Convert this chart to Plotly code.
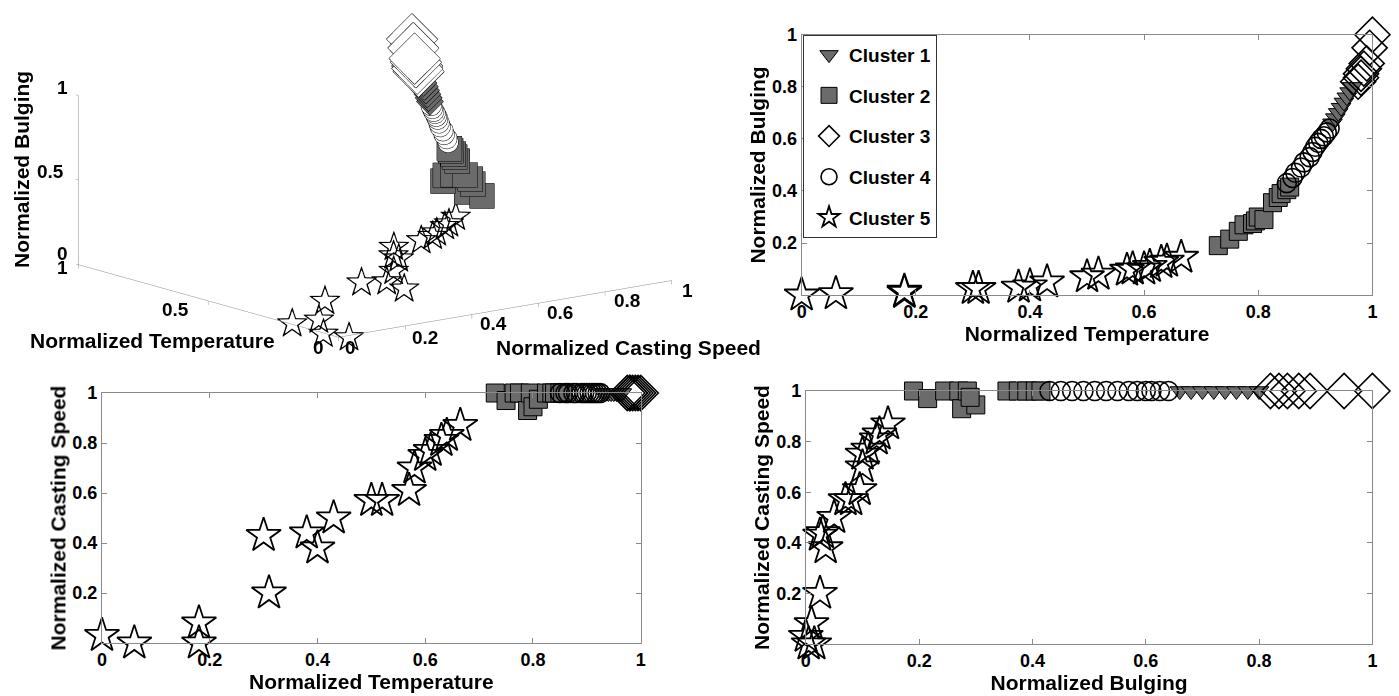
import plotly.graph_objects as go

# ---------------- data (normalized temperature T, casting speed S, bulging B) -------------
c1_T = [0.930, 0.935, 0.940, 0.945, 0.950, 0.955, 0.960, 0.965]
c1_S = [1.00, 1.00, 1.00, 1.00, 1.00, 1.00, 1.00, 1.00]
c1_B = [0.66, 0.68, 0.70, 0.72, 0.74, 0.76, 0.78, 0.80]

c2_T = [0.730, 0.750, 0.765, 0.775, 0.790, 0.795, 0.800, 0.810, 0.825, 0.835, 0.840, 0.850, 0.855]
c2_S = [1.00, 0.97, 1.00, 1.00, 0.93, 1.00, 0.945, 0.975, 1.00, 1.00, 1.00, 1.00, 1.00]
c2_B = [0.19, 0.215, 0.245, 0.27, 0.275, 0.285, 0.30, 0.29, 0.355, 0.375, 0.39, 0.405, 0.415]

c3_T = [0.975, 0.980, 0.980, 0.985, 0.990, 0.995, 1.000]
c3_S = [1.00, 1.00, 1.00, 1.00, 1.00, 1.00, 1.00]
c3_B = [0.82, 0.835, 0.85, 0.87, 0.89, 0.95, 1.00]

c4_T = [0.850, 0.860, 0.865, 0.875, 0.880, 0.890, 0.895, 0.900, 0.905, 0.910, 0.915, 0.920, 0.925]
c4_S = [1.00, 1.00, 1.00, 1.00, 1.00, 1.00, 1.00, 1.00, 1.00, 1.00, 1.00, 1.00, 1.00]
c4_B = [0.43, 0.45, 0.47, 0.49, 0.51, 0.53, 0.55, 0.57, 0.585, 0.60, 0.61, 0.625, 0.64]

c5_T = [0.00, 0.06, 0.18, 0.18, 0.30, 0.31, 0.38, 0.40, 0.43, 0.50, 0.52, 0.57, 0.58, 0.60, 0.61, 0.63, 0.64, 0.665]
c5_S = [0.03, 0.00, 0.08, 0.00, 0.43, 0.20, 0.44, 0.38, 0.50, 0.57, 0.57, 0.61, 0.70, 0.75, 0.77, 0.81, 0.83, 0.87]
c5_B = [0.00, 0.005, 0.01, 0.015, 0.025, 0.025, 0.03, 0.035, 0.05, 0.07, 0.08, 0.095, 0.10, 0.10, 0.11, 0.125, 0.13, 0.145]

cluster_names = ["Cluster 1", "Cluster 2", "Cluster 3", "Cluster 4", "Cluster 5"]
x_ticks = [0, 0.2, 0.4, 0.6, 0.8, 1]
x_ticktext = ["0", "0.2", "0.4", "0.6", "0.8", "1"]
y_ticks = [0.2, 0.4, 0.6, 0.8, 1]
y_ticktext = ["0.2", "0.4", "0.6", "0.8", "1"]

# 3D panel tick labels (text, x px, y px)
ticks3d_B = [("1", 62, 87), ("0.5", 50, 171), ("0", 62, 253)]
ticks3d_T = [("1", 62, 268), ("0.5", 175, 309), ("0", 318, 347)]
ticks3d_S = [("0", 350, 347), ("0.2", 425, 337), ("0.4", 493, 323), ("0.6", 560, 312),
             ("0.8", 627, 300), ("1", 687, 290)]

# ---------------- styles ----------------
GRAY = "#6b6b6b"
FONT = "Liberation Sans, Arial, sans-serif"
W, H = 1399, 696
styles = [
    dict(symbol="triangle-down", size=17, color=GRAY, line=dict(color="black", width=1)),
    dict(symbol="square", size=18, color=GRAY, line=dict(color="black", width=1)),
    dict(symbol="diamond-open", size=27, color="black", line=dict(color="black", width=1.6)),
    dict(symbol="circle-open", size=19, color="black", line=dict(color="black", width=1.6)),
    dict(symbol="star-open", size=26, color="black", line=dict(color="black", width=1.8)),
]
clusters = [(c1_T, c1_S, c1_B), (c2_T, c2_S, c2_B), (c3_T, c3_S, c3_B),
            (c4_T, c4_S, c4_B), (c5_T, c5_S, c5_B)]

fig = go.Figure()

# 2D panels: (x-variable index, y-variable index, axes suffix, show legend)
panels = [(0, 2, "2", True),   # top-right: T vs B
          (0, 1, "", False),   # bottom-left: T vs S
          (2, 1, "3", False)]  # bottom-right: B vs S
for xi, yi, suf, leg in panels:
    for k, (name, data, st) in enumerate(zip(cluster_names, clusters, styles)):
        fig.add_trace(go.Scatter(
            x=data[xi], y=data[yi], mode="markers", name=name,
            marker=st, cliponaxis=False, showlegend=leg, legendgroup=name,
            xaxis="x" + suf, yaxis="y" + suf))

# 3D panel
sym3d = ["diamond", "square", "diamond", "circle", None]
size3d = [9, 13, 17, 12, 0]
col3d = [GRAY, GRAY, "white", "white", None]
for k, (name, data) in enumerate(zip(cluster_names, clusters)):
    if k == 4:
        fig.add_trace(go.Scatter3d(
            x=data[0], y=data[1], z=data[2], mode="text", text=["☆"] * len(data[0]),
            textposition="middle center",
            textfont=dict(size=42, color="black", family="DejaVu Sans"),
            showlegend=False, scene="scene"))
    else:
        fig.add_trace(go.Scatter3d(
            x=data[0], y=data[1], z=data[2], mode="markers",
            marker=dict(symbol=sym3d[k], size=size3d[k], color=col3d[k],
                        line=dict(color="black", width=1.5)),
            showlegend=False, scene="scene"))

tickfont = dict(family=FONT, size=18, color="black", weight="bold")
titlefont = dict(family=FONT, size=21, color="black", weight="bold")
tick3font = dict(family=FONT, size=19, color="black", weight="bold")

def xax(domain, anchor, title):
    return dict(domain=domain, anchor=anchor, range=[0, 1], showline=True, linecolor="#8a8a8a",
                linewidth=1, mirror="allticks", ticks="inside", ticklen=5, tickcolor="#8a8a8a",
                showgrid=False, zeroline=False, tickvals=x_ticks, ticktext=x_ticktext,
                tickfont=tickfont, title=dict(text=title, font=titlefont, standoff=2),
                automargin=False)

def yax(domain, anchor, title):
    return dict(domain=domain, anchor=anchor, range=[0, 1], showline=True, linecolor="#8a8a8a",
                linewidth=1, mirror="allticks", ticks="inside", ticklen=5, tickcolor="#8a8a8a",
                showgrid=False, zeroline=False, tickvals=y_ticks, ticktext=y_ticktext,
                tickfont=tickfont, title=dict(text=title, font=titlefont, standoff=0),
                automargin=False)

ax3 = dict(showbackground=False, showgrid=False, zeroline=False, showline=True,
           linecolor="#8a8a8a", linewidth=1, ticks="outside", tickcolor="#8a8a8a",
           ticklen=4, showticklabels=False,
           title=dict(text=""), showspikes=False, range=[0, 1])

eye_dir = (0.769, 0.601, -0.218)
dist = 4.0
zoom3d = 2.31

annotations = [
    dict(text="Normalized Bulging", x=22 / W, y=1 - 170 / H, textangle=-90, font=titlefont),
    dict(text="Normalized Temperature", x=152 / W, y=1 - 340 / H, font=titlefont),
    dict(text="Normalized Casting Speed", x=628 / W, y=1 - 347 / H, font=titlefont),
]
for txt, px, py in ticks3d_B + ticks3d_T + ticks3d_S:
    annotations.append(dict(text="<b>" + txt + "</b>", x=px / W, y=1 - py / H, font=tick3font))
for a in annotations:
    a.update(xref="paper", yref="paper", showarrow=False, xanchor="center", yanchor="middle")

fig.update_layout(
    width=W, height=H, margin=dict(l=0, r=0, t=0, b=0),
    paper_bgcolor="white", plot_bgcolor="white",
    font=dict(family=FONT, color="black"),
    xaxis=xax([0.0729, 0.458], "y", "Normalized Temperature"),
    yaxis=yax([0.0761, 0.4353], "x", "Normalized Casting Speed"),
    xaxis2=xax([0.573, 0.981], "y2", "Normalized Temperature"),
    yaxis2=yax([0.576, 0.950], "x2", "Normalized Bulging"),
    xaxis3=xax([0.576, 0.981], "y3", "Normalized Bulging"),
    yaxis3=yax([0.0747, 0.4382], "x3", "Normalized Casting Speed"),
    scene=dict(
        domain=dict(x=[0.0, 0.536], y=[0.4668, 0.9928]),
        xaxis=dict(ax3, tickvals=[0, 0.5, 1]),
        yaxis=dict(ax3, tickvals=[0, 0.2, 0.4, 0.6, 0.8, 1]),
        zaxis=dict(ax3, tickvals=[0, 0.5, 1]),
        aspectmode="manual",
        aspectratio=dict(x=1 * zoom3d, y=1 * zoom3d, z=0.41 * zoom3d),
        camera=dict(eye=dict(x=eye_dir[0] * dist, y=eye_dir[1] * dist, z=eye_dir[2] * dist),
                    up=dict(x=0, y=0, z=1), center=dict(x=0, y=0, z=0),
                    projection=dict(type="orthographic")),
        bgcolor="white"),
    legend=dict(x=0.574, y=0.95, xanchor="left", yanchor="top", bgcolor="white",
                bordercolor="#333333", borderwidth=1, tracegroupgap=13, indentation=5,
                font=dict(family=FONT, size=19, color="black", weight="bold"),
                itemsizing="trace"),
    annotations=annotations,
)

fig.write_html("out.html")
